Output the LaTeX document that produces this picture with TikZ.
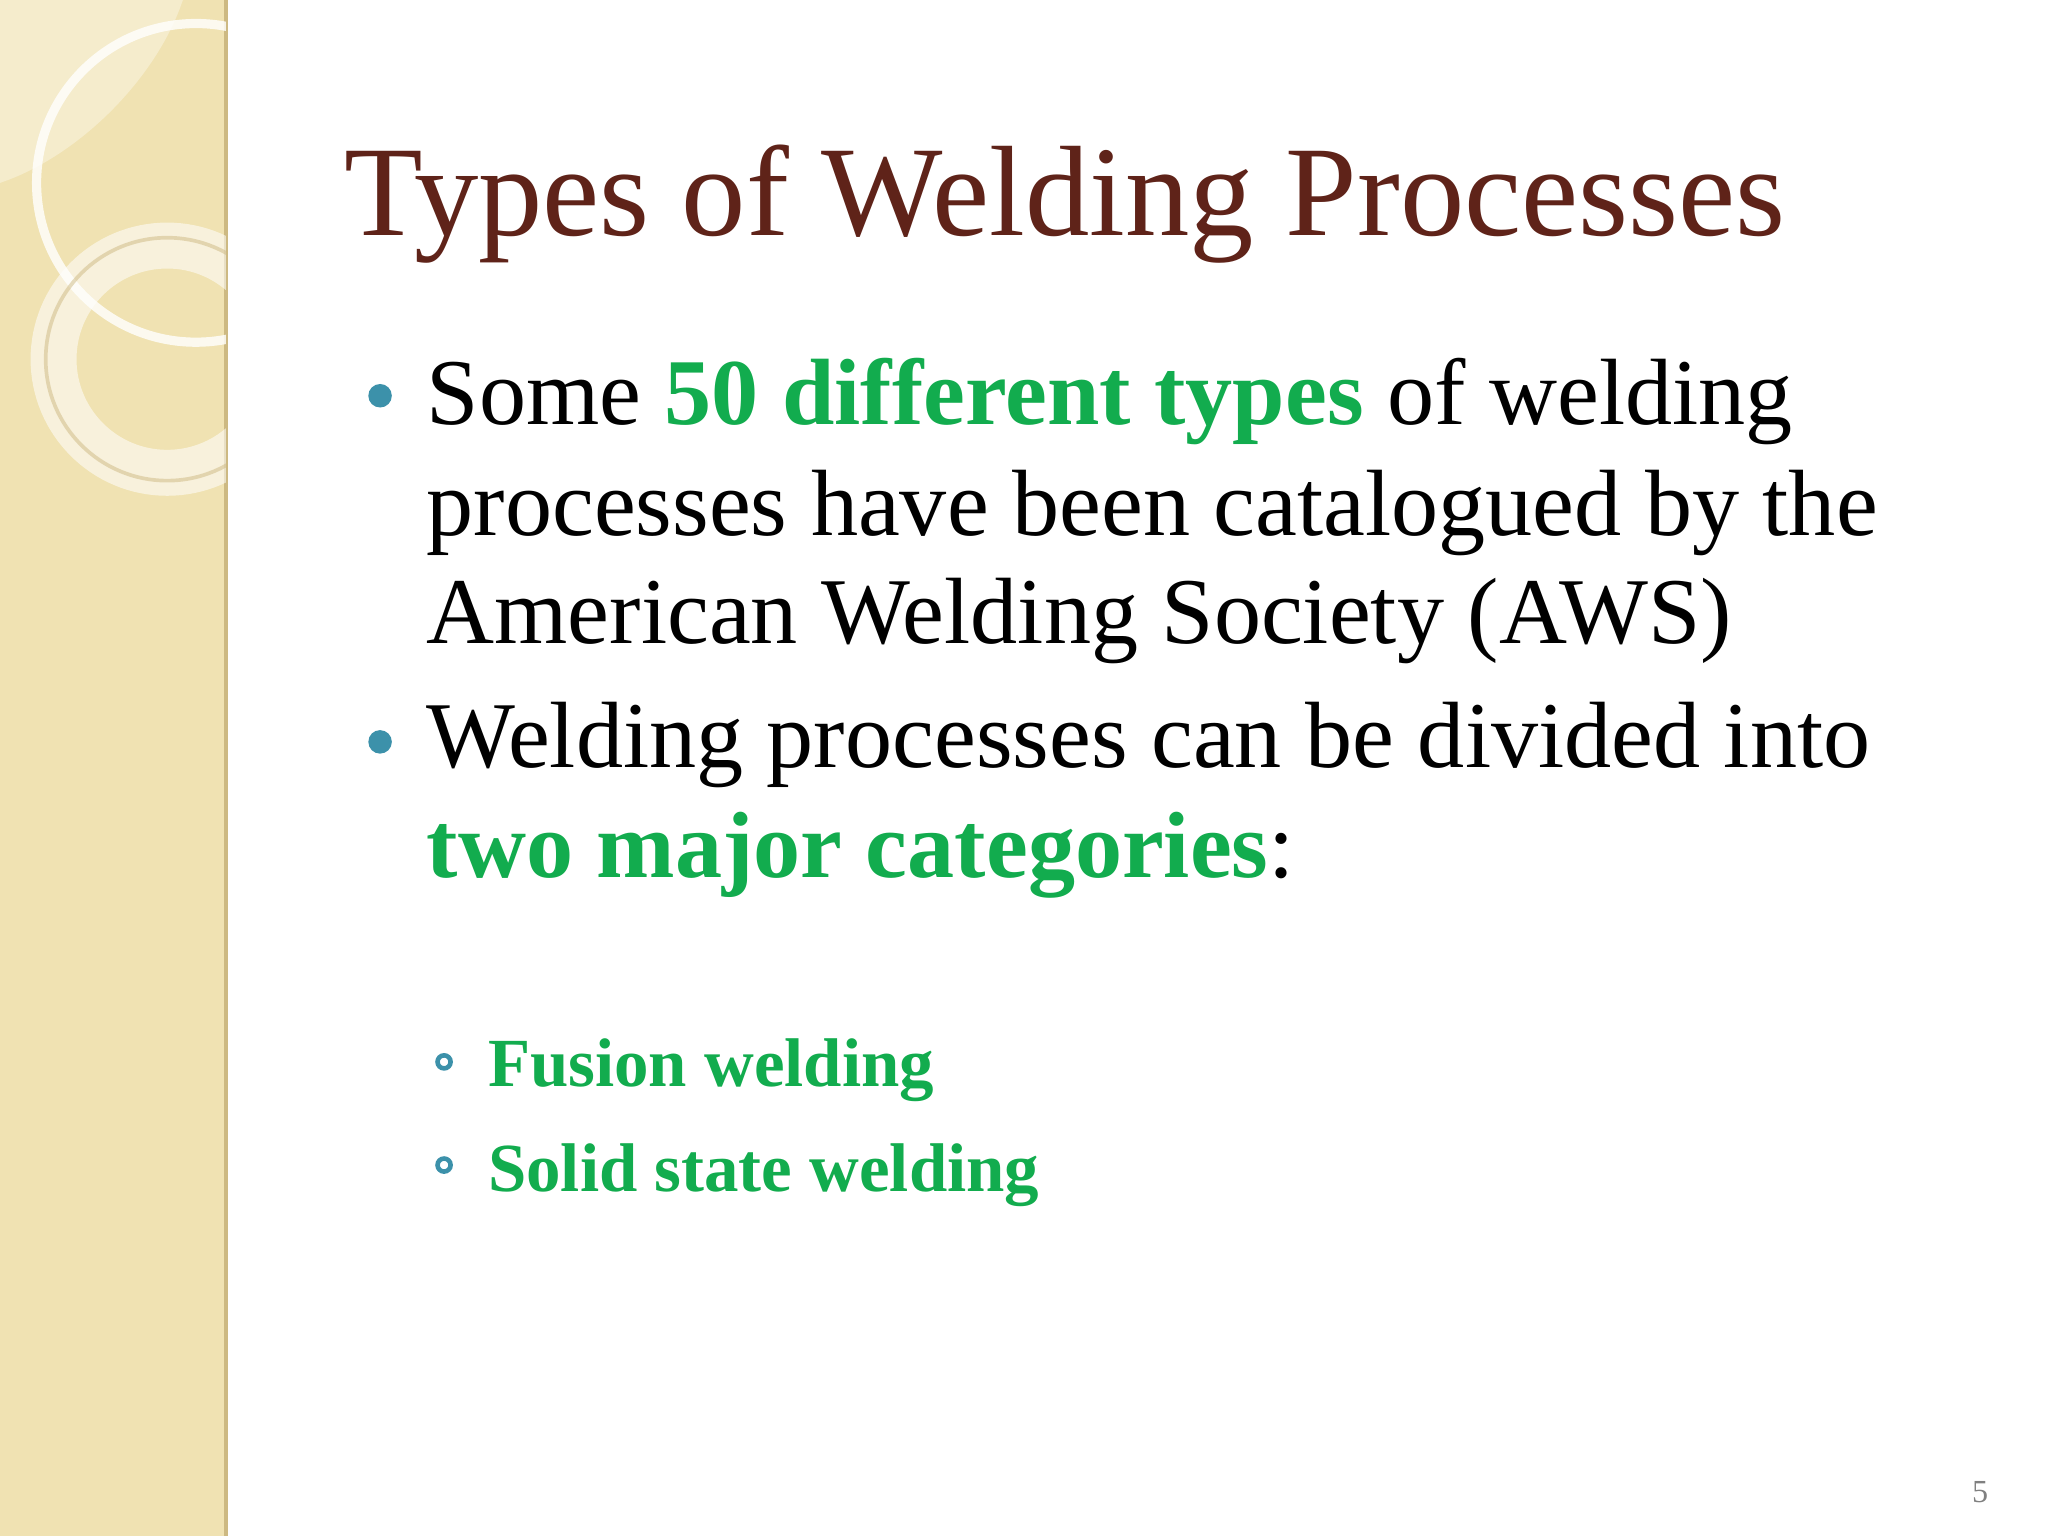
\documentclass[tikz,border=0pt]{standalone}
\usepackage{fontspec}
\setmainfont{Liberation Serif}
\definecolor{beige}{RGB}{240,226,178}
\definecolor{beigedark}{RGB}{205,185,130}
\definecolor{titlebrown}{RGB}{95,35,25}
\definecolor{grn}{RGB}{18,172,78}
\definecolor{teal}{RGB}{60,145,170}
\begin{document}
\begin{tikzpicture}[x=0.01cm,y=-0.01cm,
  body/.style={anchor=base west,inner sep=0pt,font=\fontsize{20.5}{24}\selectfont},
  sub/.style={anchor=base west,inner sep=0pt,font=\fontsize{15}{18}\selectfont\bfseries,text=grn}]
\useasboundingbox (0,0) rectangle (1568,1176);
\fill[white] (0,0) rectangle (1568,1176);
\fill[beige] (0,0) rectangle (173,1176);
\fill[white,opacity=0.35] (0,0) -- (140,0) .. controls (120,60) and (60,120) .. (0,140) -- cycle;
\draw[beigedark,line width=1pt] (173,0) -- (173,1176);
\begin{scope}
\clip (0,0) rectangle (173,1176);
\draw[white,opacity=0.8,line width=2pt] (150,140) circle (122);
\draw[white,opacity=0.55,line width=10pt] (128,275) circle (87);
\draw[beigedark,opacity=0.5,line width=0.8pt] (128,275) circle (93);
\end{scope}
\node[anchor=base west,inner sep=0pt,text=titlebrown,font=\fontsize{28}{32}\selectfont] (title) at (263,180) {Types of Welding Processes};
\fill[teal] (291,303) circle (9);
\fill[teal] (291,568) circle (9);
\node[body] (l1) at (326,325) {Some \textcolor{grn}{\bfseries 50 different types} of welding};
\node[body] (l2) at (326,410) {processes have been catalogued by the};
\node[body] (l3) at (326,493) {American Welding Society (AWS)};
\node[body] (l4) at (326,588) {Welding processes can be divided into};
\node[body] (l5) at (326,672) {\textcolor{grn}{\bfseries two major categories}:};
\draw[teal,line width=1pt] (340,813) circle (5);
\draw[teal,line width=1pt] (340,892) circle (5);
\node[sub] (s1) at (373,832) {Fusion welding};
\node[sub] (s2) at (373,912) {Solid state welding};
\node[anchor=base,inner sep=0pt,text=gray,font=\fontsize{7}{8}\selectfont] (pg) at (1516,1150) {5};
\end{tikzpicture}
\end{document}
